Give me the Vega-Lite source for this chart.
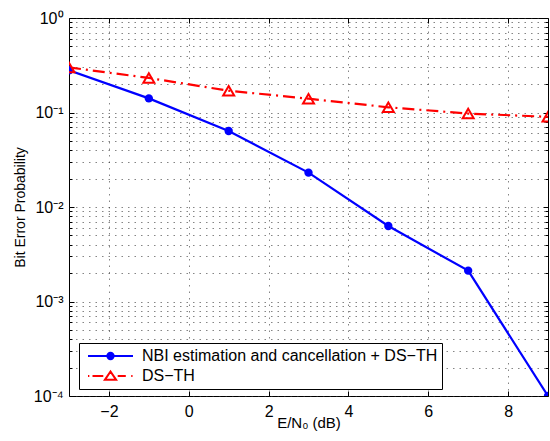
{
  "$schema": "https://vega.github.io/schema/vega-lite/v6.json",
  "width": 479,
  "height": 378,
  "autosize": {"type": "none"},
  "padding": {"left": 69, "top": 18, "right": 2, "bottom": 45},
  "background": "white",
  "config": {
    "view": {"stroke": "black", "strokeWidth": 1},
    "font": "Liberation Sans",
    "axis": {
      "labelFont": "Liberation Sans",
      "labelFontSize": 16,
      "labelColor": "black",
      "tickColor": "black",
      "tickWidth": 1,
      "domain": false,
      "labelFlush": false,
      "labelOverlap": false,
      "gridDash": [1.5, 5],
      "gridColor": "#333333",
      "gridOpacity": 0.6,
      "gridWidth": 1,
      "titleFont": "Liberation Sans",
      "titleFontWeight": "normal",
      "titleColor": "black"
    }
  },
  "data": {
    "values": [
      {"x": -3, "ber": 0.28, "series": "NBI estimation and cancellation + DS−TH"},
      {"x": -1, "ber": 0.141, "series": "NBI estimation and cancellation + DS−TH"},
      {"x": 1, "ber": 0.0637, "series": "NBI estimation and cancellation + DS−TH"},
      {"x": 3, "ber": 0.0231, "series": "NBI estimation and cancellation + DS−TH"},
      {"x": 5, "ber": 0.00629, "series": "NBI estimation and cancellation + DS−TH"},
      {"x": 7, "ber": 0.00212, "series": "NBI estimation and cancellation + DS−TH"},
      {"x": 9, "ber": 0.0001, "series": "NBI estimation and cancellation + DS−TH"},
      {"x": -3, "ber": 0.30, "series": "DS−TH"},
      {"x": -1, "ber": 0.232, "series": "DS−TH"},
      {"x": 1, "ber": 0.170, "series": "DS−TH"},
      {"x": 3, "ber": 0.140, "series": "DS−TH"},
      {"x": 5, "ber": 0.1135, "series": "DS−TH"},
      {"x": 7, "ber": 0.0975, "series": "DS−TH"},
      {"x": 9, "ber": 0.090, "series": "DS−TH"}
    ]
  },
  "resolve": {"axis": {"x": "independent", "y": "independent"}},
  "layer": [
    {
      "transform": [{"filter": {"field": "series", "equal": "NBI estimation and cancellation + DS−TH"}}],
      "mark": {"type": "line", "color": "#0000ff", "strokeWidth": 2.2, "clip": true},
      "encoding": {
        "x": {
          "field": "x", "type": "quantitative",
          "scale": {"domain": [-3, 9], "nice": false, "zero": false},
          "axis": {
            "orient": "bottom", "values": [-2, 0, 2, 4, 6, 8], "format": "d",
            "tickSize": -5, "labelPadding": 12, "grid": true,
            "title": "E/N₀ (dB)", "titleFontSize": 15, "titlePadding": -4
          }
        },
        "y": {
          "field": "ber", "type": "quantitative",
          "scale": {"type": "log", "domain": [0.0001, 1], "nice": false},
          "axis": {
            "orient": "left", "values": [0.0001, 0.001, 0.01, 0.1, 1],
            "labelExpr": "datum.value == 1 ? '10⁰' : datum.value == 0.1 ? '10⁻¹' : datum.value == 0.01 ? '10⁻²' : datum.value == 0.001 ? '10⁻³' : '10⁻⁴'",
            "tickSize": -5, "labelPadding": 11, "grid": true,
            "title": "Bit Error Probability", "titleFontSize": 14, "titlePadding": 6
          }
        }
      }
    },
    {
      "transform": [{"filter": {"field": "series", "equal": "DS−TH"}}],
      "mark": {"type": "line", "color": "#ff0000", "strokeWidth": 2.2, "strokeDash": [12, 5, 2, 5], "clip": true},
      "encoding": {
        "x": {
          "field": "x", "type": "quantitative",
          "axis": {"orient": "top", "values": [-2, 0, 2, 4, 6, 8], "labels": false, "tickSize": -5, "grid": false, "title": null}
        },
        "y": {
          "field": "ber", "type": "quantitative",
          "axis": {
            "orient": "left",
            "values": [0.0002, 0.0003, 0.0004, 0.0005, 0.0006, 0.0007, 0.0008, 0.0009, 0.002, 0.003, 0.004, 0.005, 0.006, 0.007, 0.008, 0.009, 0.02, 0.03, 0.04, 0.05, 0.06, 0.07, 0.08, 0.09, 0.2, 0.3, 0.4, 0.5, 0.6, 0.7, 0.8, 0.9],
            "labels": false, "tickSize": -3, "grid": true, "title": null
          }
        }
      }
    },
    {
      "transform": [{"filter": {"field": "series", "equal": "NBI estimation and cancellation + DS−TH"}}],
      "mark": {"type": "point", "shape": "circle", "filled": true, "color": "#0000ff", "size": 70, "opacity": 1, "clip": true},
      "encoding": {
        "x": {"field": "x", "type": "quantitative", "axis": null},
        "y": {
          "field": "ber", "type": "quantitative",
          "axis": {"orient": "right", "values": [0.0001, 0.001, 0.01, 0.1, 1], "labels": false, "tickSize": -5, "grid": false, "title": null}
        }
      }
    },
    {
      "transform": [{"filter": {"field": "series", "equal": "DS−TH"}}],
      "mark": {"type": "point", "shape": "triangle-up", "filled": false, "stroke": "#ff0000", "strokeWidth": 2, "size": 121, "opacity": 1, "clip": true},
      "encoding": {
        "x": {"field": "x", "type": "quantitative", "axis": null},
        "y": {
          "field": "ber", "type": "quantitative",
          "axis": {
            "orient": "right",
            "values": [0.0002, 0.0003, 0.0004, 0.0005, 0.0006, 0.0007, 0.0008, 0.0009, 0.002, 0.003, 0.004, 0.005, 0.006, 0.007, 0.008, 0.009, 0.02, 0.03, 0.04, 0.05, 0.06, 0.07, 0.08, 0.09, 0.2, 0.3, 0.4, 0.5, 0.6, 0.7, 0.8, 0.9],
            "labels": false, "tickSize": -3, "grid": false, "title": null
          }
        }
      }
    },
    {
      "mark": {"type": "point", "filled": true, "opacity": 0, "strokeWidth": 2},
      "encoding": {
        "x": {"field": "x", "type": "quantitative", "axis": null},
        "y": {"field": "ber", "type": "quantitative", "axis": null},
        "shape": {
          "field": "series", "type": "nominal",
          "scale": {
            "domain": ["NBI estimation and cancellation + DS−TH", "DS−TH"],
            "range": [
              "M-1,0H1M-0.14,0A0.14,0.14 0 1,0 0.14,0A0.14,0.14 0 1,0 -0.14,0Z",
              "M-1,0H-0.94M-0.8,0H-0.32M0.32,0H0.68M0.92,0H0.98M0,-0.2L-0.25,0.17L0.25,0.17Z"
            ]
          },
          "legend": {
            "title": null, "orient": "none", "legendX": 10, "legendY": 325,
            "symbolSize": 2025, "symbolStrokeWidth": 2, "symbolOpacity": 1,
            "clipHeight": 18, "rowPadding": 2, "padding": 4, "symbolOffset": 4, "labelOffset": 8,
            "labelFont": "Liberation Sans", "labelFontSize": 16, "labelColor": "black", "labelLimit": 400,
            "strokeColor": "black", "fillColor": "white"
          }
        },
        "stroke": {
          "field": "series", "type": "nominal",
          "scale": {"domain": ["NBI estimation and cancellation + DS−TH", "DS−TH"], "range": ["#0000ff", "#ff0000"]},
          "legend": {
            "title": null, "orient": "none", "legendX": 10, "legendY": 325,
            "symbolSize": 2025, "symbolStrokeWidth": 2, "symbolOpacity": 1,
            "clipHeight": 18, "rowPadding": 2, "padding": 4, "symbolOffset": 4, "labelOffset": 8,
            "labelFont": "Liberation Sans", "labelFontSize": 16, "labelColor": "black", "labelLimit": 400,
            "strokeColor": "black", "fillColor": "white"
          }
        },
        "fill": {
          "field": "series", "type": "nominal",
          "scale": {"domain": ["NBI estimation and cancellation + DS−TH", "DS−TH"], "range": ["#0000ff", "transparent"]},
          "legend": {
            "title": null, "orient": "none", "legendX": 10, "legendY": 325,
            "symbolSize": 2025, "symbolStrokeWidth": 2, "symbolOpacity": 1,
            "clipHeight": 18, "rowPadding": 2, "padding": 4, "symbolOffset": 4, "labelOffset": 8,
            "labelFont": "Liberation Sans", "labelFontSize": 16, "labelColor": "black", "labelLimit": 400,
            "strokeColor": "black", "fillColor": "white"
          }
        }
      }
    }
  ]
}
